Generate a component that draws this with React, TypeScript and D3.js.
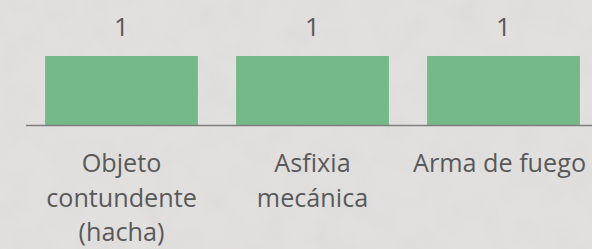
import { useEffect, useRef } from "react"
import * as d3 from "d3"

// chart data
const categories = ["Objeto contundente (hacha)", "Asfixia mecánica", "Arma de fuego"]
const labelLines = [["Objeto", "contundente", "(hacha)"], ["Asfixia", "mecánica"], ["Arma de fuego"]]
const values = [1, 1, 1]

const width = 592
const height = 249

export default function App() {
  const svgRef = useRef<SVGSVGElement>(null)

  useEffect(() => {
    if (!svgRef.current) return
    const svg = d3.select(svgRef.current)
    svg.selectAll("*").remove()

    // concrete-ish background
    const defs = svg.append("defs")
    const filter = defs.append("filter").attr("id", "grain").attr("x", 0).attr("y", 0).attr("width", "100%").attr("height", "100%")
    filter.append("feTurbulence").attr("type", "fractalNoise").attr("baseFrequency", 0.035).attr("numOctaves", 4).attr("seed", 7).attr("result", "noise")
    filter.append("feColorMatrix").attr("type", "matrix")
      .attr("values", "0 0 0 0 0.5  0 0 0 0 0.49  0 0 0 0 0.49  0.9 0 0 0 -0.35")

    svg.append("rect").attr("width", width).attr("height", height).attr("fill", "#e2e0df")
    svg.append("rect").attr("width", width).attr("height", height).attr("filter", "url(#grain)").attr("opacity", 0.22)

    const x = d3.scaleBand<string>().domain(categories).range([26, 599]).paddingInner(0.2).paddingOuter(0.1)
    const y = d3.scaleLinear().domain([0, 1]).range([125, 56])

    const font = "'Open Sans', sans-serif"

    // bars
    svg.append("g")
      .selectAll("rect")
      .data(values)
      .enter()
      .append("rect")
      .attr("x", (_, i) => x(categories[i])!)
      .attr("y", d => y(d))
      .attr("width", x.bandwidth())
      .attr("height", d => y(0) - y(d))
      .attr("fill", "#74b987")

    // value labels
    svg.append("g")
      .selectAll("text")
      .data(values)
      .enter()
      .append("text")
      .attr("x", (_, i) => x(categories[i])! + x.bandwidth() / 2)
      .attr("y", d => y(d) - 20)
      .attr("text-anchor", "middle")
      .attr("font-family", font)
      .attr("font-size", 26)
      .attr("fill", "#595959")
      .text(d => d)

    // axis line
    svg.append("line")
      .attr("x1", 26).attr("x2", 599)
      .attr("y1", y(0) + 0.5).attr("y2", y(0) + 0.5)
      .attr("stroke", "#7f7f7f")
      .attr("stroke-width", 1.5)

    // category labels
    const cat = svg.append("g")
      .selectAll("text")
      .data(categories)
      .enter()
      .append("text")
      .attr("text-anchor", "middle")
      .attr("font-family", font)
      .attr("font-size", 25.2)
      .attr("fill", "#595959")
      .attr("transform", (d, i) => `translate(${x(d)! + x.bandwidth() / 2 + (i === 2 ? -4 : 0)},172)`)

    cat.selectAll("tspan")
      .data((_, i) => labelLines[i])
      .enter()
      .append("tspan")
      .attr("x", 0)
      .attr("y", (_, j) => j * 34.5)
      .text(d => d)
  }, [])

  return (
    <svg
      ref={svgRef}
      width={width}
      height={height}
      style={{ position: "absolute", left: 0, top: 0, display: "block" }}
    />
  )
}
